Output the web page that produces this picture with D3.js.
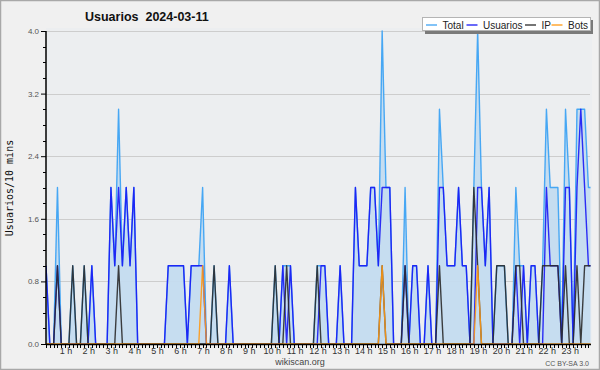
<!DOCTYPE html>
<html>
<head>
<meta charset="utf-8">
<script src="https://cdn.jsdelivr.net/npm/d3@7"></script>
<style>
  body { margin: 0; background: #f0f0f0; }
  svg { display: block; font-family: "Liberation Sans", Arial, sans-serif; }
</style>
</head>
<body>
<svg id="chart" width="600" height="370"></svg>
<script>
// Chart data (one value every 10 minutes, 144 per day)
const chartTitle = "Usuarios  2024-03-11";
const yLabel = "Usuarios/10 mins";
const yTicks = [0, 0.8, 1.6, 2.4, 3.2, 4.0];
const hourLabels = ["1 h","2 h","3 h","4 h","5 h","6 h","7 h","8 h","9 h","10 h","11 h","12 h",
  "13 h","14 h","15 h","16 h","17 h","18 h","19 h","20 h","21 h","22 h","23 h"];
const seriesNames = ["Total", "Usuarios", "IP", "Bots"];
const seriesColors = ["#3ea3f3", "#1818f5", "#2a2a2a", "#ff9914"];

const total = [
  1,0,0,2,0,0,  0,1,0,0,1,0,  1,0,0,0,0,2,  1,3,1,2,1,2,
  0,0,0,0,0,0,  0,0,1,1,1,1,  1,0,1,1,1,2,  0,0,1,0,0,0,
  1,0,0,0,0,0,  0,0,0,0,0,0,  1,0,1,1,1,0,  0,0,0,0,0,1,
  1,1,0,0,0,1,  0,0,0,2,1,1,  1,2,2,1,4,2,  2,0,0,0,2,0,
  1,1,0,0,1,0,  0,3,2,1,1,1,  2,1,1,0,2,4,  2,1,2,0,1,1,
  1,0,0,2,1,1,  0,1,1,0,1,3,  2,2,2,0,3,2,  0,3,3,3,2,2
];
const usuarios = [
  1,0,0,1,0,0,  0,0,0,0,0,0,  1,0,0,0,0,2,  1,2,1,2,1,2,
  0,0,0,0,0,0,  0,0,1,1,1,1,  1,0,1,1,1,1,  0,0,0,0,0,0,
  1,0,0,0,0,0,  0,0,0,0,0,0,  0,0,1,0,1,0,  0,0,0,0,0,0,
  1,1,0,0,0,1,  0,0,0,2,1,1,  1,2,2,1,2,2,  2,0,0,0,1,0,
  1,1,0,0,1,0,  0,2,2,1,1,1,  2,1,1,0,0,2,  2,1,2,0,0,0,
  0,0,0,1,0,1,  0,1,1,0,0,2,  1,1,1,0,2,2,  0,2,3,2,1,1
];
const ip = [
  0,0,0,1,0,0,  0,1,0,0,1,0,  0,0,0,0,0,0,  0,1,0,0,0,0,
  0,0,0,0,0,0,  0,0,0,0,0,0,  0,0,0,0,0,0,  0,0,1,0,0,0,
  0,0,0,0,0,0,  0,0,0,0,0,0,  1,0,0,1,0,0,  0,0,0,0,0,1,
  0,0,0,0,0,0,  0,0,0,0,0,0,  0,0,0,0,1,0,  0,0,0,0,1,0,
  0,0,0,0,0,0,  0,1,0,0,0,0,  0,0,0,0,2,1,  0,0,0,0,1,1,
  1,0,0,1,1,0,  0,0,0,0,1,1,  1,1,1,0,1,0,  0,1,0,1,1,1
];
const bots = [
  0,0,0,0,0,0,  0,0,0,0,0,0,  0,0,0,0,0,0,  0,0,0,0,0,0,
  0,0,0,0,0,0,  0,0,0,0,0,0,  0,0,0,0,0,1,  0,0,0,0,0,0,
  0,0,0,0,0,0,  0,0,0,0,0,0,  0,0,0,0,0,0,  0,0,0,0,0,0,
  0,0,0,0,0,0,  0,0,0,0,0,0,  0,0,0,0,1,0,  0,0,0,0,0,0,
  0,0,0,0,0,0,  0,0,0,0,0,0,  0,0,0,0,0,1,  0,0,0,0,0,0,
  0,0,0,0,0,0,  0,0,0,0,0,0,  0,0,0,0,0,0,  0,0,0,0,0,0
];

const svg = d3.select("#chart");
const W = 600, H = 370;
const plotL = 46, plotR = 590, plotT = 31, plotB = 344;
const step = 3.82; // px between two 10-minute samples

const x = d3.scaleLinear().domain([0, total.length - 1]).range([plotL, plotL + step * (total.length - 1)]);
const y = d3.scaleLinear().domain([0, 4]).range([plotB, plotT]);

// frame + plot background
svg.append("rect").attr("x", 0.5).attr("y", 0.5).attr("width", W - 1).attr("height", H - 1)
  .attr("fill", "#f0f0f0").attr("stroke", "#a8a8a8").attr("stroke-width", 1.5);
svg.append("rect").attr("x", plotL).attr("y", plotT - 3).attr("width", plotR - plotL + 2).attr("height", plotB - plotT + 3)
  .attr("fill", "#eceef0");
svg.append("clipPath").attr("id", "plotclip").append("rect")
  .attr("x", plotL).attr("y", plotT - 5).attr("width", plotR - plotL + 0.5).attr("height", plotB - plotT + 5);

// grid
svg.append("g").selectAll("line").data(yTicks.slice(1)).join("line")
  .attr("x1", plotL).attr("x2", plotR)
  .attr("y1", d => Math.round(y(d)) + 0.5).attr("y2", d => Math.round(y(d)) + 0.5)
  .attr("stroke", "#cdcdcd").attr("stroke-width", 1);

// series
const idx = d3.range(total.length);
const plot = svg.append("g").attr("clip-path", "url(#plotclip)");
const area = d3.area().x(i => x(i)).y0(y(0)).y1(i => y(total[i]));
plot.append("path").attr("d", area(idx)).attr("fill", "#c4dbef").attr("fill-opacity", 0.95);

[total, usuarios, ip, bots].forEach((s, k) => {
  const line = d3.line().x(i => x(i)).y(i => y(s[i]));
  plot.append("path").attr("d", line(idx)).attr("fill", "none")
    .attr("stroke", seriesColors[k]).attr("stroke-width", 1.4)
    .attr("stroke-linejoin", "round").attr("stroke-opacity", k === 0 ? 0.95 : 0.9);
});

// y axis
const yAxis = d3.axisLeft(y).tickValues(yTicks).tickFormat(d3.format(".1f")).tickSize(5).tickPadding(2);
const gy = svg.append("g").attr("transform", `translate(${plotL},0)`).call(yAxis);
gy.select(".domain").remove();
gy.selectAll("text").attr("font-size", 8).attr("fill", "#555");
gy.selectAll("line").attr("stroke", "#000");
const minor = d3.range(0, 4.01, 0.2).filter(v => Math.abs(v / 0.8 - Math.round(v / 0.8)) > 0.01);
svg.append("g").selectAll("line").data(minor).join("line")
  .attr("x1", plotL - 3).attr("x2", plotL)
  .attr("y1", d => Math.round(y(d)) + 0.5).attr("y2", d => Math.round(y(d)) + 0.5)
  .attr("stroke", "#000");
svg.append("line").attr("x1", plotL).attr("x2", plotL).attr("y1", plotT).attr("y2", plotB + 1)
  .attr("stroke", "#000").attr("stroke-width", 1.5);

// x axis: a tick per 10 minutes, labels each hour
svg.append("g").selectAll("line").data(idx.filter(i => x(i) <= plotR + 0.5)).join("line")
  .attr("x1", i => Math.round(x(i)) + 0.5).attr("x2", i => Math.round(x(i)) + 0.5)
  .attr("y1", plotB).attr("y2", plotB + 4)
  .attr("stroke", "#000");
svg.append("line").attr("x1", plotL).attr("x2", plotR + 1).attr("y1", plotB + 0.5).attr("y2", plotB + 0.5)
  .attr("stroke", "#000").attr("stroke-width", 1.5);
svg.append("g").selectAll("text").data(hourLabels).join("text")
  .attr("x", (d, k) => x((k + 1) * 6) - 3).attr("y", 354)
  .attr("text-anchor", "middle").attr("font-size", 9).attr("fill", "#333")
  .text(d => d);

// titles
svg.append("text").attr("x", 85).attr("y", 21).attr("font-size", 12.5).attr("font-weight", "bold")
  .attr("fill", "#111").style("white-space", "pre").text(chartTitle);
svg.append("text").attr("transform", "translate(13,188) rotate(-90)")
  .attr("text-anchor", "middle").attr("font-family", "DejaVu Sans Mono, monospace")
  .attr("font-size", 10).attr("fill", "#111").text(yLabel);
svg.append("text").attr("x", 300).attr("y", 365).attr("text-anchor", "middle")
  .attr("font-size", 9).attr("fill", "#444").text("wikiscan.org");
svg.append("text").attr("x", 589).attr("y", 366).attr("text-anchor", "end")
  .attr("font-size", 7).attr("fill", "#555").text("CC BY-SA 3.0");

// legend
const lg = svg.append("g");
lg.append("rect").attr("x", 425).attr("y", 20).attr("width", 168).attr("height", 14).attr("fill", "#7a7a7a");
lg.append("rect").attr("x", 422.5).attr("y", 17.5).attr("width", 168).attr("height", 13)
  .attr("fill", "#fff").attr("stroke", "#b4b4b4");
const legX = [426, 466.5, 525, 551.5];
const legT = [442.5, 483, 541.5, 568];
seriesNames.forEach((n, k) => {
  lg.append("line").attr("x1", legX[k]).attr("x2", legX[k] + 11).attr("y1", 25).attr("y2", 25)
    .attr("stroke", seriesColors[k]).attr("stroke-width", 1.3);
  lg.append("text").attr("x", legT[k]).attr("y", 28.5).attr("font-size", 10).attr("fill", "#222").text(n);
});
</script>
</body>
</html>
